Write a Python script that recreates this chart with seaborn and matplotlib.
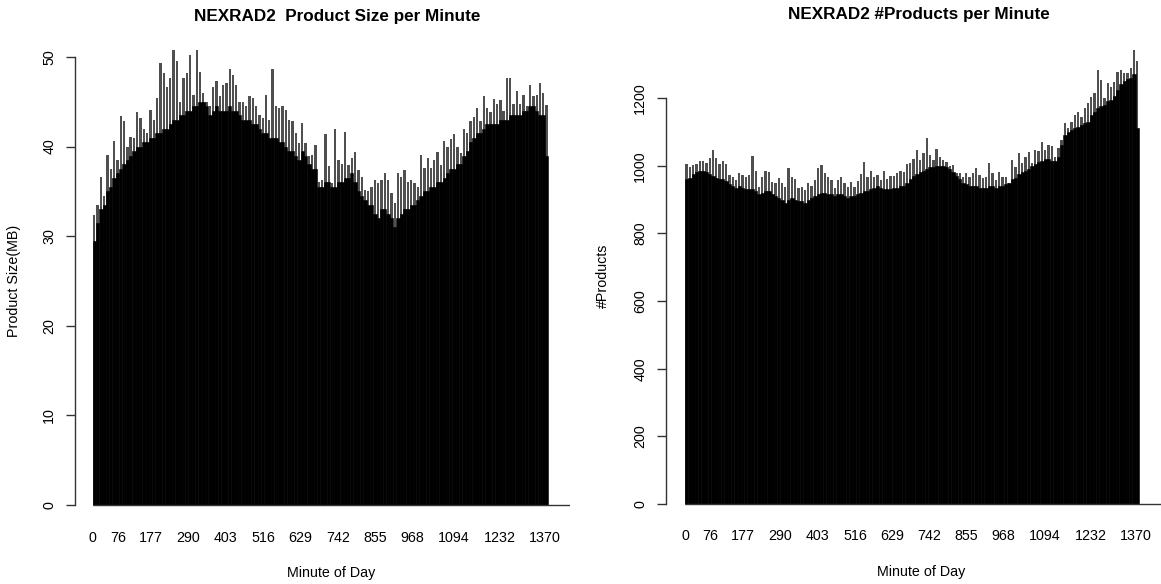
import numpy as np
import pandas as pd
import matplotlib
matplotlib.use("Agg")
import matplotlib.pyplot as plt
import seaborn as sns

# minute-of-day data, grouped in 10 minute bins (0..1379)
# body = solid top of the bars in a bin, peak = tallest single minute in it
bin_start = np.arange(0, 1380, 10)

size_body = [
    29.5, 31.5, 33.0, 33.5, 35.0, 35.5, 36.5, 37.0, 37.5, 38.0,
    38.5, 39.0, 39.5, 40.0, 40.0, 40.5, 40.5, 41.0, 41.0, 41.5,
    41.5, 42.0, 42.0, 42.5, 43.0, 43.0, 43.5, 43.5, 44.0, 44.0,
    44.5, 44.5, 45.0, 45.0, 44.5, 43.5, 44.0, 44.5, 44.0, 44.0,
    44.0, 44.5, 44.0, 44.0, 43.5, 43.0, 43.0, 43.0, 42.5, 42.5,
    42.0, 41.5, 41.5, 41.0, 41.0, 41.0, 40.5, 40.5, 40.0, 39.5,
    39.5, 39.0, 38.5, 39.5, 39.0, 38.0, 37.5, 37.5, 35.5, 35.5,
    36.0, 36.0, 35.5, 35.5, 36.0, 36.0, 36.5, 36.5, 37.0, 36.0,
    35.0, 34.5, 34.0, 33.5, 33.5, 32.5, 32.0, 33.0, 33.0, 32.5,
    32.0, 31.0, 32.0, 32.5, 33.0, 33.0, 33.5, 33.5, 34.0, 34.5,
    35.0, 35.0, 35.5, 35.5, 36.0, 36.0, 36.5, 37.0, 37.5, 37.5,
    38.0, 38.0, 39.0, 39.5, 40.5, 41.0, 41.5, 41.5, 42.0, 42.5,
    42.5, 42.5, 42.5, 43.0, 43.0, 43.0, 43.5, 43.5, 43.5, 43.5,
    44.0, 44.0, 44.5, 44.5, 44.0, 43.5, 43.5, 39.0,
]
size_peak = [
    32.4, 33.5, 36.6, 34.5, 39.1, 37.5, 40.6, 38.5, 43.4, 42.8,
    40.0, 41.1, 41.0, 43.8, 43.2, 42.0, 41.5, 44.1, 43.0, 45.4,
    49.3, 48.2, 46.7, 47.6, 50.8, 49.6, 45.0, 47.7, 48.2, 50.2,
    45.8, 50.8, 48.3, 46.0, 45.0, 44.5, 46.7, 47.3, 45.6, 46.9,
    47.1, 48.6, 48.0, 46.9, 45.0, 45.0, 44.5, 45.6, 45.4, 44.5,
    43.5, 43.2, 45.8, 43.0, 48.6, 44.5, 44.3, 44.5, 44.1, 43.0,
    42.8, 41.5, 40.4, 42.6, 40.4, 38.9, 39.1, 40.2, 36.1, 36.3,
    41.4, 37.8, 35.9, 42.0, 38.5, 38.1, 41.6, 37.9, 38.7, 39.4,
    37.4, 36.6, 35.2, 35.0, 35.5, 36.3, 35.9, 36.3, 37.0, 36.3,
    34.8, 33.7, 37.0, 36.6, 37.4, 36.1, 36.3, 35.9, 35.5, 39.1,
    37.6, 38.7, 37.6, 38.5, 39.4, 37.9, 40.6, 40.0, 40.8, 41.4,
    40.0, 39.3, 42.0, 41.5, 42.8, 43.3, 44.3, 42.8, 45.6, 44.3,
    43.9, 45.3, 44.8, 45.2, 44.0, 47.7, 47.7, 44.8, 46.2, 44.8,
    45.8, 44.5, 46.9, 45.6, 45.7, 47.1, 46.0, 44.6,
]

count_body = [
    960, 965, 975, 980, 985, 985, 980, 975, 970, 965,
    960, 960, 955, 945, 940, 935, 940, 935, 930, 930,
    930, 925, 915, 920, 925, 925, 915, 910, 905, 900,
    890, 900, 905, 900, 895, 895, 890, 900, 905, 910,
    915, 920, 920, 915, 915, 910, 915, 915, 910, 905,
    910, 910, 915, 920, 925, 925, 930, 935, 940, 935,
    930, 930, 930, 935, 935, 940, 940, 950, 960, 970,
    975, 980, 985, 990, 995, 995, 1000, 1000, 1000, 995,
    990, 980, 970, 960, 950, 945, 940, 940, 940, 935,
    935, 935, 940, 940, 935, 940, 940, 945, 950, 960,
    965, 975, 980, 985, 990, 1000, 1005, 1010, 1015, 1020,
    1020, 1015, 1015, 1025, 1060, 1090, 1100, 1105, 1110, 1115,
    1120, 1125, 1130, 1150, 1160, 1170, 1175, 1180, 1190, 1195,
    1205, 1225, 1240, 1250, 1255, 1260, 1270, 1110,
]
count_peak = [
    1005, 997, 1002, 1005, 1015, 1015, 1007, 1022, 1045, 1022,
    1005, 1015, 1005, 972, 968, 958, 978, 973, 966, 973,
    1030, 985, 938, 966, 985, 980, 953, 950, 963, 948,
    938, 992, 968, 960, 933, 938, 928, 948, 940, 958,
    992, 1002, 978, 968, 958, 933, 958, 968, 948, 938,
    953, 938, 955, 975, 1012, 968, 983, 968, 973, 958,
    984, 960, 970, 970, 978, 985, 980, 1005, 1009, 1020,
    1046, 1017, 1037, 1083, 1032, 1017, 1048, 1027, 1017, 1012,
    999, 1002, 978, 978, 968, 978, 968, 978, 992, 973,
    963, 968, 1007, 978, 958, 982, 968, 968, 948, 1017,
    997, 1037, 1007, 1027, 1039, 1007, 1047, 1042, 1071, 1047,
    1061, 1058, 1027, 1051, 1076, 1127, 1111, 1130, 1150, 1160,
    1145, 1170, 1184, 1204, 1215, 1283, 1253, 1199, 1244, 1234,
    1248, 1278, 1283, 1273, 1273, 1288, 1342, 1308,
]

minute_labels = [0, 76, 177, 290, 403, 516, 629, 742, 855, 968, 1094, 1232, 1370]
size_yticks = [0, 10, 20, 30, 40, 50]
count_yticks = [0, 200, 400, 600, 800, 1000, 1200]

sns.set_style("ticks")
plt.rcParams["font.family"] = ["Liberation Sans", "DejaVu Sans"]
plt.rcParams["text.color"] = "black"
plt.rcParams["axes.labelcolor"] = "black"
plt.rcParams["xtick.labelcolor"] = "black"
plt.rcParams["ytick.labelcolor"] = "black"

size_df = pd.DataFrame({"minute": bin_start + 5, "body": size_body, "peak": size_peak})
count_df = pd.DataFrame({"minute": bin_start + 5, "body": count_body, "peak": count_peak})

W, H = 1161, 584
fig = plt.figure(figsize=(W / 100, H / 100), dpi=100)
ax1 = fig.add_axes([75 / W, (H - 523) / H, 495 / W, 484 / H])
ax2 = fig.add_axes([666 / W, (H - 521) / H, 495 / W, 491 / H])


def draw(ax, df, title, ylabel, yticks, ylim, xlim, title_x, title_pad, xlab_x, ylab_x):
    sns.barplot(data=df, x="minute", y="peak", native_scale=True, width=0.7,
                color="#505050", saturation=1, linewidth=0, errorbar=None, ax=ax)
    sns.barplot(data=df, x="minute", y="body", native_scale=True, width=1.0,
                color="black", saturation=1, linewidth=0.4, edgecolor="black",
                errorbar=None, ax=ax)
    ax.set_xlim(*xlim)
    ax.set_ylim(*ylim)
    ax.hlines(0, 0, xlim[1], color="#333333", lw=1.0, zorder=5)

    for s in ["top", "right", "bottom"]:
        ax.spines[s].set_visible(False)
    ax.spines["left"].set_bounds(yticks[0], yticks[-1])
    ax.spines["left"].set_color("#333333")
    ax.spines["left"].set_linewidth(1.0)

    ax.set_yticks(yticks, labels=[str(v) for v in yticks])
    ax.tick_params(axis="y", direction="out", length=6.5, width=1.0, color="#333333",
                   labelsize=10.3, pad=7, labelrotation=90)
    for lbl in ax.get_yticklabels():
        lbl.set_va("center")

    ax.set_xticks(np.array(minute_labels) + 0.5, labels=[str(v) for v in minute_labels])
    ax.tick_params(axis="x", length=0, labelsize=10.3, pad=6)

    ax.set_title(title, fontsize=12.3, fontweight="bold", x=title_x, pad=title_pad)
    ax.set_xlabel("Minute of Day", fontsize=10.3)
    ax.xaxis.set_label_coords(xlab_x, -0.089)
    ax.set_ylabel(ylabel, fontsize=10.3)
    ax.yaxis.set_label_coords(ylab_x, 0.5)


draw(ax1, size_df, "NEXRAD2  Product Size per Minute", "Product Size(MB)",
     size_yticks, (-2, 52), (-53.6, 1446), 0.53, 13, 0.518, -0.109)
draw(ax2, count_df, "NEXRAD2 #Products per Minute", "#Products",
     count_yticks, (-50, 1401), (-57.7, 1447), 0.511, 8, 0.515, -0.113)

fig.savefig("out.png", dpi=100)
